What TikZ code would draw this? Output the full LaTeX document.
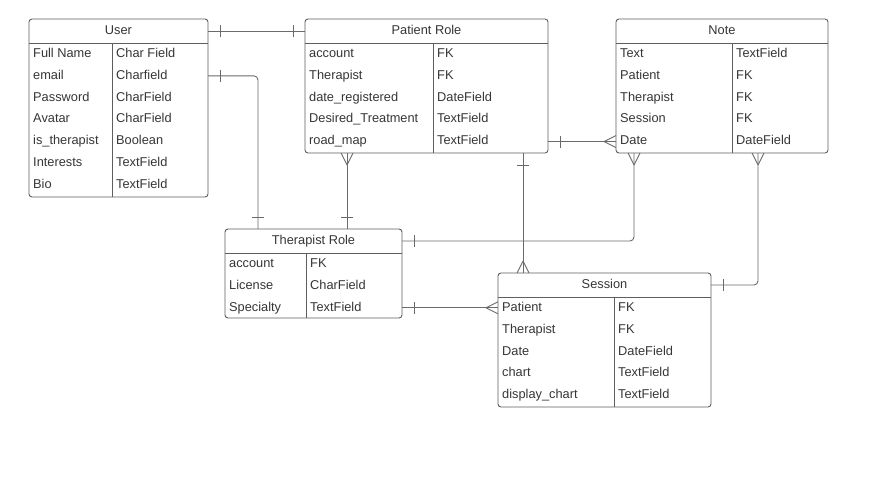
\documentclass[tikz,border=0pt]{standalone}
\usepackage{fontspec}
\setmainfont{Liberation Sans}
\usetikzlibrary{decorations.markings,calc}
\definecolor{boxc}{HTML}{5E5E5E}
\definecolor{txtc}{HTML}{363636}
\definecolor{linec}{HTML}{6A6A6A}
\tikzset{
  tbox/.style={draw=boxc, line width=0.9pt, rounded corners=3pt, inner sep=0pt, outer sep=0pt, fill=white},
  tline/.style={draw=boxc, line width=0.9pt},
  ttitle/.style={inner sep=0pt, text=txtc, text height=9pt, text depth=2.5pt, font=\fontsize{12.8}{15}\selectfont},
  tfield/.style={inner sep=0pt, anchor=west, text=txtc, text height=9pt, text depth=2.5pt, font=\fontsize{12.8}{15}\selectfont},
  rel/.style={draw=linec, line width=0.9pt, rounded corners=4pt},
  relmark/.style={draw=linec, line width=0.9pt},
  onestart/.style={postaction={decorate,decoration={markings,mark=at position 12pt with {\draw[relmark] (0,-6pt)--(0,6pt);}}}},
  oneend/.style={postaction={decorate,decoration={markings,mark=at position -12pt with {\draw[relmark] (0,-6pt)--(0,6pt);}}}},
  manystart/.style={postaction={decorate,decoration={markings,mark=at position 0 with {\draw[relmark] (12pt,0)--(0,6pt) (12pt,0)--(0,-6pt);}}}},
  manyend/.style={postaction={decorate,decoration={markings,mark=at position 0.9999 with {\draw[relmark] (-12pt,0)--(0,6pt) (-12pt,0)--(0,-6pt);}}}},
}
% name, x, y, width, height, divider offset, title, rows
\newcommand{\erdtable}[8]{%
  \node[tbox, anchor=north west, minimum width=#4pt, minimum height=#5pt] (#1) at (#2,#3) {};
  \draw[tline] ([yshift=-24pt]#1.north west) -- ([yshift=-24pt]#1.north east);
  \draw[tline] ([xshift=#6pt,yshift=-24pt]#1.north west) -- ([xshift=#6pt]#1.south west);
  \node[ttitle] (#1-t) at ([yshift=-12pt]#1.north) {#7};
  \foreach \rowa/\rowb [count=\ri] in {#8} {
    \node[tfield] (#1-\ri a) at ([xshift=4pt,yshift={-35pt-21.9pt*(\ri-1)}]#1.north west) {\rowa};
    \node[tfield] (#1-\ri b) at ([xshift={#6pt+4pt},yshift={-35pt-21.9pt*(\ri-1)}]#1.north west) {\rowb};
  }
}
\begin{document}
\begin{tikzpicture}[x=1pt,y=1pt]
\fill[white] (0,0) rectangle (896,-482);
\useasboundingbox (0,0) rectangle (896,-482);

\erdtable{user}{29}{-19}{179}{178}{83}{User}{Full Name/Char Field, email/Charfield, Password/CharField, Avatar/CharField, is\_therapist/Boolean, Interests/TextField, Bio/TextField}
\erdtable{pr}{305}{-19}{243}{134}{128}{Patient Role}{account/FK, Therapist/FK, date\_registered/DateField, Desired\_Treatment/TextField, road\_map/TextField}
\erdtable{note}{616}{-19}{212}{134}{116}{Note}{Text/TextField, Patient/FK, Therapist/FK, Session/FK, Date/DateField}
\erdtable{tr}{225}{-229}{177}{89}{81}{Therapist Role}{account/FK, License/CharField, Specialty/TextField}
\erdtable{ses}{498}{-273}{213}{134}{116}{Session}{Patient/FK, Therapist/FK, Date/DateField, chart/TextField, display\_chart/TextField}

% connectors
\draw[rel,onestart,oneend] (user.east |- user-t) -- (pr.west |- user-t);
\draw[rel,onestart,oneend] (user.east |- user-2a) -| ([xshift=33pt]tr.north west);
\draw[rel,manystart,oneend] ([xshift=42pt]pr.south west) -- ([xshift=42pt]pr.south west |- tr.north);
\draw[rel,onestart,manyend] (pr.east |- pr-5a) -- (note.west |- pr-5a);
\draw[rel,onestart,manyend] ([xshift=218pt]pr.south west) -- ([xshift=218pt]pr.south west |- ses.north);
\draw[rel,manystart,oneend] ([xshift=18pt]note.south west) |- (tr.east |- tr-t);
\draw[rel,manystart,oneend] ([xshift=142pt]note.south west) |- (ses.east |- ses-t);
\draw[rel,onestart,manyend] (tr.east |- tr-3a) -- (ses.west |- tr-3a);
\end{tikzpicture}
\end{document}
